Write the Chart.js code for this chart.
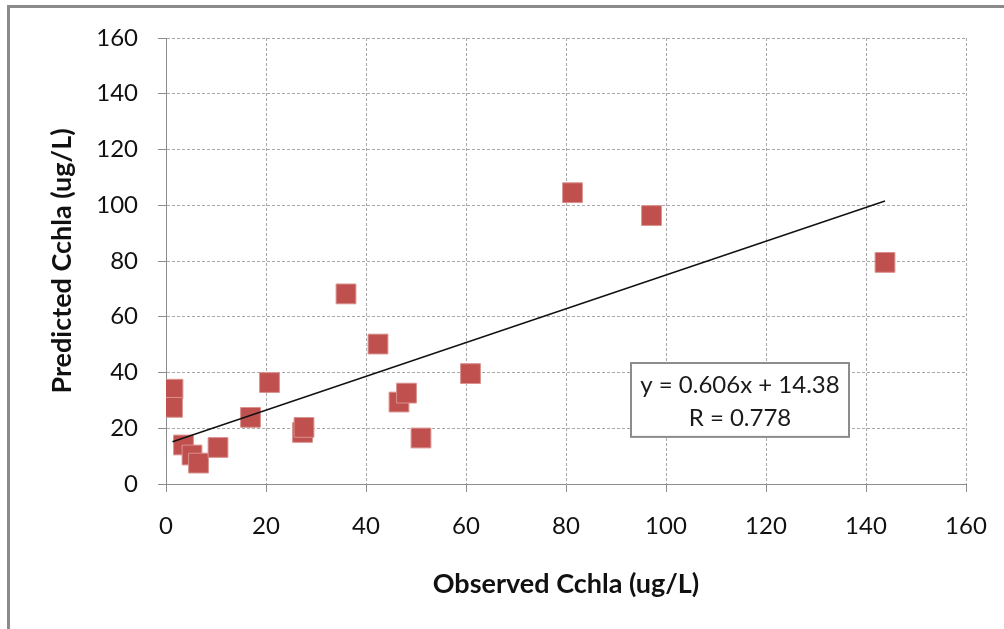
<!DOCTYPE html>
<html>
<head>
<meta charset="utf-8">
<script src="https://cdn.jsdelivr.net/npm/chart.js@4.4.1/dist/chart.umd.min.js"></script>
<style>
  html, body { margin: 0; padding: 0; background: #ffffff; }
  #wrap { position: relative; width: 1004px; height: 629px; overflow: hidden; background: #ffffff; }
  #frame { position: absolute; left: 7px; top: 5px; width: 1100px; height: 700px;
           border-left: 3px solid #8a8a8a; border-top: 3px solid #8a8a8a; pointer-events: none; }
  canvas { position: absolute; left: 0; top: 0; }
</style>
</head>
<body>
<div id="wrap">
  <canvas id="c" width="1004" height="629"></canvas>
  <div id="frame"></div>
</div>
<script>
// ---- data ----
const observed  = [1.4, 1.3, 3.5, 5.2, 6.5, 10.4, 16.9, 20.7, 27.3, 27.6, 36.0, 42.4, 46.6, 48.1, 51.0, 60.9, 81.3, 97.1, 143.8];
const predicted = [34.0, 27.5, 14.0, 10.4, 7.5, 13.1, 23.9, 36.4, 18.5, 20.3, 68.2, 50.2, 29.4, 32.6, 16.5, 39.6, 104.5, 96.3, 79.5];
const trendSlope = 0.606;
const trendIntercept = 14.38;
const equationLines = ['y = 0.606x + 14.38', 'R = 0.778'];
const xTitle = 'Observed Cchla (ug/L)';
const yTitle = 'Predicted Cchla (ug/L)';
const axisMin = 0, axisMax = 160, axisStep = 20;

const points = observed.map((x, i) => ({x: x, y: predicted[i]}));
const xLo = Math.min(...observed), xHi = Math.max(...observed);
const trend = [
  {x: xLo, y: trendSlope * xLo + trendIntercept},
  {x: xHi, y: trendSlope * xHi + trendIntercept}
];

const FONT = 'Lato, "Open Sans", sans-serif';
const gridColor = '#a8a8a8';
const axisColor = '#8c8c8c';

const eqBox = {
  id: 'eqBox',
  afterDatasetsDraw(chart) {
    const {ctx, scales: {x, y}} = chart;
    const x1 = x.getPixelForValue(93), x2 = x.getPixelForValue(136.6);
    const y1 = y.getPixelForValue(43.4), y2 = y.getPixelForValue(16.9);
    ctx.save();
    ctx.fillStyle = '#ffffff';
    ctx.fillRect(x1, y1, x2 - x1, y2 - y1);
    ctx.strokeStyle = '#8c8c8c';
    ctx.lineWidth = 2;
    ctx.strokeRect(x1, y1, x2 - x1, y2 - y1);
    ctx.fillStyle = '#1a1a1a';
    ctx.font = '24px ' + FONT;
    ctx.textAlign = 'center';
    ctx.textBaseline = 'middle';
    const cx = (x1 + x2) / 2;
    ctx.fillText(equationLines[0], cx, y.getPixelForValue(35.3));
    ctx.fillText(equationLines[1], cx, y.getPixelForValue(23.5));
    ctx.restore();
  }
};

function axisOpts(titleText, isX) {
  return {
    type: 'linear',
    min: axisMin, max: axisMax,
    ticks: { stepSize: axisStep, padding: 20, color: '#111', font: { family: FONT, size: 24 } },
    grid: { color: gridColor, lineWidth: 1, tickLength: 8, tickColor: axisColor, tickBorderDash: [] },
    border: { color: axisColor, width: 1, dash: [3, 2] },
    title: {
      display: true, text: titleText, color: '#111',
      font: { family: FONT, size: 27, weight: 'bold' },
      padding: isX ? { top: 0, bottom: 29 } : { top: 46, bottom: 0 }
    },
    afterFit(s) {
      if (isX) { s.height = 145; s.paddingRight = 0; s.paddingLeft = 0; }
      else { s.width = 166; s.paddingTop = 0; s.paddingBottom = 0; }
    }
  };
}

new Chart(document.getElementById('c'), {
  type: 'scatter',
  data: {
    datasets: [
      { type: 'line', data: trend, borderColor: '#111', borderWidth: 1.4, pointRadius: 0, fill: false },
      { data: points, pointStyle: 'rect', pointRadius: 14, backgroundColor: '#C0504D', borderColor: '#D9928F', borderWidth: 1 }
    ]
  },
  options: {
    responsive: false, animation: false, devicePixelRatio: 1,
    layout: { padding: { left: 0, top: 38, right: 38, bottom: 0 } },
    plugins: { legend: { display: false }, tooltip: { enabled: false } },
    scales: { x: axisOpts(xTitle, true), y: axisOpts(yTitle, false) }
  },
  plugins: [eqBox]
});
</script>
</body>
</html>
